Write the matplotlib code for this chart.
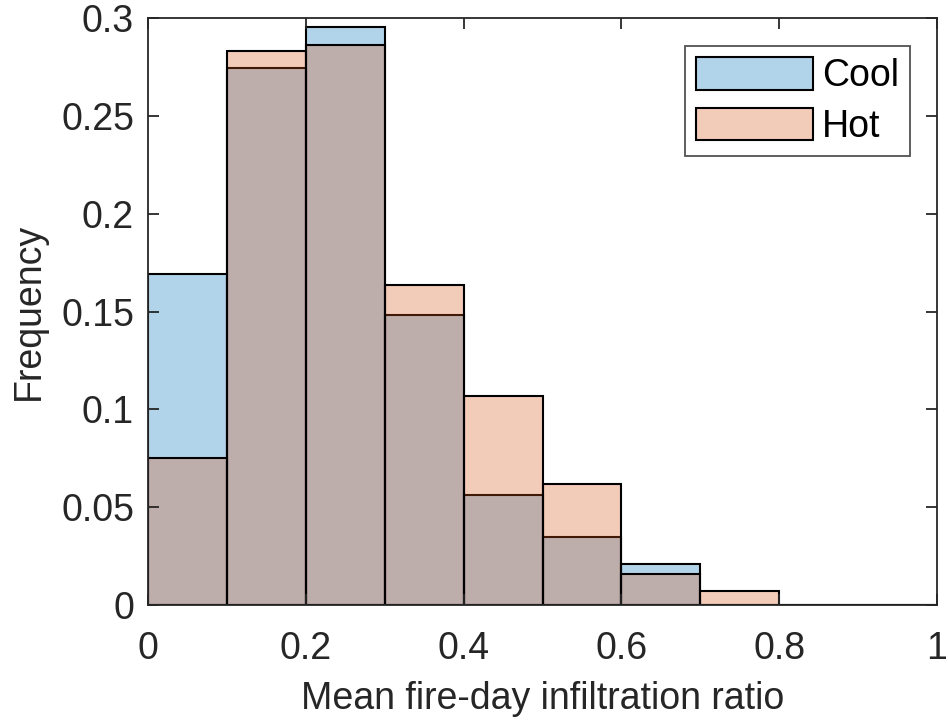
import numpy as np
import matplotlib
matplotlib.use('Agg')
import matplotlib.pyplot as plt

plt.rcParams['font.family'] = ['Liberation Sans', 'DejaVu Sans']

bin_edges = [0.0, 0.1, 0.2, 0.3, 0.4, 0.5, 0.6, 0.7, 0.8, 0.9, 1.0]
cool_freq = [0.169, 0.2745, 0.2955, 0.148, 0.056, 0.035, 0.021, 0.0, 0.0, 0.0]
hot_freq = [0.075, 0.283, 0.286, 0.1635, 0.107, 0.062, 0.016, 0.0072, 0.0, 0.0]

axis_col = '#262626'
blue = (0.0, 0.447, 0.741, 0.3)
orange = (0.85, 0.325, 0.098, 0.3)
fs = 27

fig = plt.figure(figsize=(9.48, 7.21), dpi=100)
ax = fig.add_axes([148 / 948, 1 - 605 / 721, 789 / 948, 587 / 721])

left = np.array(bin_edges[:-1])
width = np.diff(bin_edges)
ax.bar(left, cool_freq, width=width, align='edge', color=blue,
       edgecolor='black', linewidth=1.5, label='Cool')
ax.bar(left, hot_freq, width=width, align='edge', color=orange,
       edgecolor='black', linewidth=1.5, label='Hot')

ax.set_xlim(0, 1)
ax.set_ylim(0, 0.3)
ax.set_xticks([0, 0.2, 0.4, 0.6, 0.8, 1])
ax.set_xticklabels(['0', '0.2', '0.4', '0.6', '0.8', '1'])
ax.set_yticks([0, 0.05, 0.1, 0.15, 0.2, 0.25, 0.3])
ax.set_yticklabels(['0', '0.05', '0.1', '0.15', '0.2', '0.25', '0.3'])

for s in ax.spines.values():
    s.set_color(axis_col)
    s.set_linewidth(1.3)
ax.tick_params(direction='in', length=8, width=1.3, color=axis_col,
               labelcolor=axis_col, labelsize=fs, top=True, right=True)
ax.tick_params(axis='y', pad=10)
ax.tick_params(axis='x', pad=19)

ax.set_xlabel('Mean fire-day infiltration ratio', fontsize=fs, color=axis_col, labelpad=10)
ax.set_ylabel('Frequency', fontsize=fs, color=axis_col, labelpad=10)

leg = ax.legend(loc='upper right', bbox_to_anchor=(0.966, 0.952), fontsize=fs,
                frameon=True, fancybox=False, handlelength=3.1, handleheight=0.95,
                labelspacing=0.35, handletextpad=0.25, borderpad=0.3,
                borderaxespad=0)
leg.get_frame().set_edgecolor(axis_col)
leg.get_frame().set_linewidth(1.3)
for h in leg.legend_handles:
    h.set_linewidth(1.5)

fig.savefig('out.png', dpi=100)
